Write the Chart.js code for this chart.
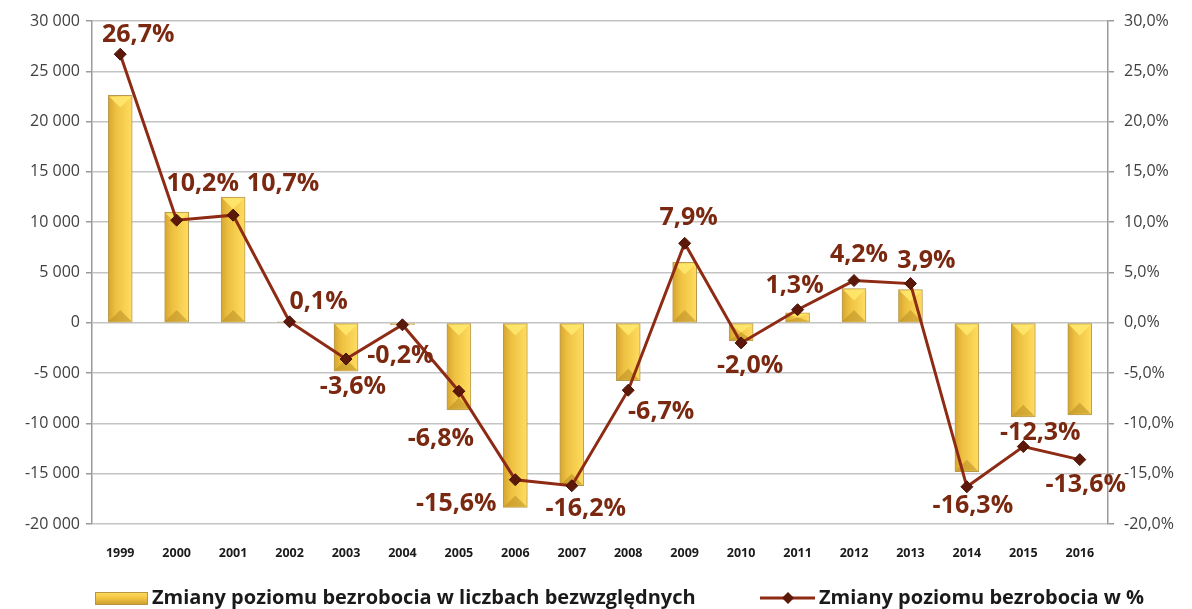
<!DOCTYPE html>
<html>
<head>
<meta charset="utf-8">
<script src="https://cdn.jsdelivr.net/npm/chart.js@4.4.1/dist/chart.umd.min.js"></script>
<style>
  html, body { margin: 0; padding: 0; background: #fff; }
  #wrap { width: 1192px; height: 609px; }
</style>
</head>
<body>
<div id="wrap"><canvas id="chart"></canvas></div>
<script>
const years = ["1999", "2000", "2001", "2002", "2003", "2004", "2005", "2006", "2007",
  "2008", "2009", "2010", "2011", "2012", "2013", "2014", "2015", "2016"];
// change in number of unemployed (persons)
const absChange = [22600, 11000, 12500, 100, -4800, -200, -8650, -18350, -16200,
  -5750, 6000, -1800, 1000, 3400, 3300, -14800, -9350, -9150];
// change in %
const pctChange = [26.7, 10.2, 10.7, 0.1, -3.6, -0.2, -6.8, -15.6, -16.2,
  -6.7, 7.9, -2.0, 1.3, 4.2, 3.9, -16.3, -12.3, -13.6];

const barLabel = "Zmiany poziomu bezrobocia w liczbach bezwzględnych";
const lineLabel = "Zmiany poziomu bezrobocia w %";

const lineColor = "#8E2B14";
const labelColor = "#7A2810";

function fmtThousands(n) {
  const s = Math.abs(n).toString().replace(/\B(?=(\d{3})+(?!\d))/g, " ");
  return (n < 0 ? "-" : "") + s;
}
function fmtPct(v) {
  return v.toFixed(1).replace(".", ",") + "%";
}

// label offsets from each point (dx, dy)
const labelOffsets = [
  [18, -19], [26, -36], [50, -31], [29, -20], [7, 28], [-2, 31], [-18, 48], [-59, 24], [14, 23],
  [33, 22], [4, -25], [9, 23], [-3, -24], [5, -26], [16, -23], [6, 19], [17, -14], [6, 25]
];

const bevelPlugin = {
  id: "bevel",
  afterDatasetDraw(chart, args) {
    if (args.index !== 0) return;
    const ctx = chart.ctx;
    ctx.save();
    args.meta.data.forEach((bar) => {
      const w = bar.width;
      const top = Math.min(bar.y, bar.base);
      const bot = Math.max(bar.y, bar.base);
      const h = bot - top;
      if (h < 4) return;
      const l = bar.x - w / 2, r = bar.x + w / 2;
      const d = Math.min(w / 2, h / 2);
      ctx.fillStyle = "rgba(255,232,110,0.9)";
      ctx.beginPath();
      ctx.moveTo(l + 1, top + 1); ctx.lineTo(r - 1, top + 1); ctx.lineTo(bar.x, top + d);
      ctx.closePath(); ctx.fill();
      ctx.fillStyle = "rgba(185,140,35,0.55)";
      ctx.beginPath();
      ctx.moveTo(l + 1, bot - 1); ctx.lineTo(r - 1, bot - 1); ctx.lineTo(bar.x, bot - d);
      ctx.closePath(); ctx.fill();
    });
    ctx.restore();
  }
};

const pctLabelPlugin = {
  id: "pctLabels",
  afterDatasetsDraw(chart) {
    const meta = chart.getDatasetMeta(1);
    const ctx = chart.ctx;
    ctx.save();
    ctx.font = "bold 25px 'Open Sans', sans-serif";
    ctx.fillStyle = labelColor;
    ctx.textAlign = "center";
    ctx.textBaseline = "middle";
    meta.data.forEach((pt, i) => {
      const off = labelOffsets[i] || [0, -20];
      ctx.fillText(fmtPct(pctChange[i]), pt.x + off[0], pt.y + off[1]);
    });
    ctx.restore();
  }
};

const legendPlugin = {
  id: "bottomLegend",
  afterDraw(chart) {
    const ctx = chart.ctx;
    const y = 598;
    ctx.save();
    // bar swatch
    const g = ctx.createLinearGradient(0, y - 7, 0, y + 7);
    g.addColorStop(0, "#FFE36A");
    g.addColorStop(0.5, "#F4C542");
    g.addColorStop(1, "#C99A2C");
    ctx.fillStyle = g;
    ctx.fillRect(95, y - 6, 53, 13);
    ctx.strokeStyle = "#B89540";
    ctx.lineWidth = 1;
    ctx.strokeRect(95.5, y - 5.5, 52, 12);
    ctx.font = "bold 20px 'Open Sans', sans-serif";
    ctx.fillStyle = "#1A1A1A";
    ctx.textBaseline = "middle";
    ctx.fillText(barLabel, 152, y);
    // line swatch
    ctx.strokeStyle = lineColor;
    ctx.lineWidth = 3;
    ctx.beginPath();
    ctx.moveTo(760, y); ctx.lineTo(815, y);
    ctx.stroke();
    ctx.fillStyle = "#5C1808";
    ctx.beginPath();
    ctx.moveTo(788, y - 6); ctx.lineTo(794, y); ctx.lineTo(788, y + 6); ctx.lineTo(782, y);
    ctx.closePath(); ctx.fill();
    ctx.fillStyle = "#1A1A1A";
    ctx.fillText(lineLabel, 819, y);
    ctx.restore();
  }
};

const ctx = document.getElementById("chart").getContext("2d");
const chart = new Chart(ctx, {
  type: "bar",
  data: {
    labels: years,
    datasets: [
      {
        type: "bar",
        label: barLabel,
        data: absChange,
        yAxisID: "y",
        order: 2,
        barThickness: 24,
        borderColor: "#B89A50",
        borderWidth: 1,
        borderSkipped: false,
        backgroundColor(c) {
          const ch = c.chart;
          const xs = ch.scales.x;
          if (!ch.chartArea || !xs || c.type !== "data") return "#F4C542";
          const xc = xs.getPixelForValue(c.dataIndex);
          const g = ch.ctx.createLinearGradient(xc - 12, 0, xc + 12, 0);
          g.addColorStop(0, "#D5A52E");
          g.addColorStop(0.3, "#EDBF40");
          g.addColorStop(0.7, "#F8D152");
          g.addColorStop(1, "#FFDC62");
          return g;
        },
      },
      {
        type: "line",
        label: lineLabel,
        data: pctChange,
        yAxisID: "y2",
        order: 1,
        borderColor: lineColor,
        borderWidth: 3,
        tension: 0,
        pointStyle: "rectRot",
        pointRadius: 6,
        pointBackgroundColor: "#5C1808",
        pointBorderColor: "#4A1206",
        pointBorderWidth: 1,
      },
    ],
  },
  options: {
    responsive: true,
    maintainAspectRatio: false,
    animation: false,
    layout: { padding: { top: 21, left: 0, right: 0, bottom: 0 } },
    plugins: {
      legend: { display: false },
      tooltip: { enabled: false },
    },
    scales: {
      x: {
        grid: { display: false },
        border: { display: false },
        ticks: {
          font: { family: "'Open Sans', sans-serif", size: 12.5, weight: "bold" },
          color: "#1A1A1A",
          padding: 14,
          maxRotation: 0,
        },
        afterFit(s) { s.height = 85; },
      },
      y: {
        position: "left",
        min: -20000,
        max: 30000,
        ticks: {
          stepSize: 5000,
          font: { family: "'Open Sans', sans-serif", size: 16 },
          color: "#404040",
          padding: 6,
          callback: (v) => fmtThousands(v),
        },
        grid: { color: "#C4C4C4", lineWidth: 1.5, tickLength: 6, tickColor: "#9A9A9A" },
        border: { color: "#9A9A9A", width: 1.5 },
        afterFit(s) { s.width = 92; },
      },
      y2: {
        position: "right",
        min: -20,
        max: 30,
        ticks: {
          stepSize: 5,
          font: { family: "'Open Sans', sans-serif", size: 16 },
          color: "#404040",
          padding: 10,
          callback: (v) => fmtPct(v),
        },
        grid: { drawOnChartArea: false, tickLength: 6, tickColor: "#9A9A9A", lineWidth: 1.5 },
        border: { color: "#9A9A9A", width: 1.5 },
        afterFit(s) { s.width = 84; },
      },
    },
  },
  plugins: [bevelPlugin, pctLabelPlugin, legendPlugin],
});
</script>
</body>
</html>
